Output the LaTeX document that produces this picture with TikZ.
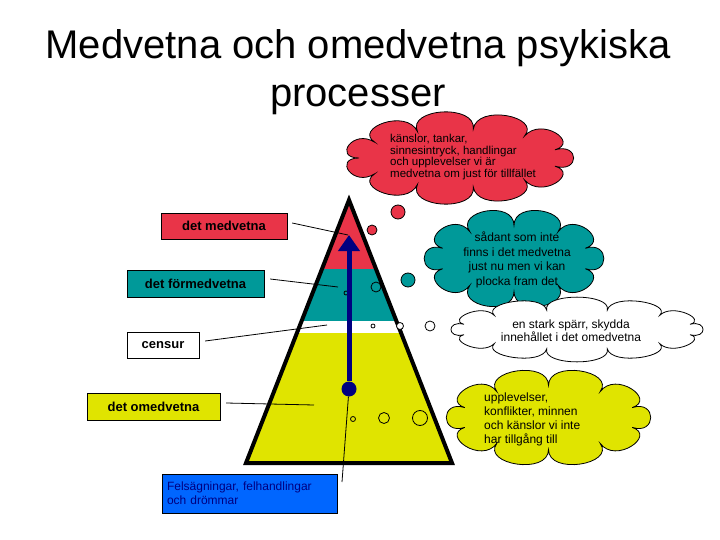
\documentclass[tikz,border=0pt]{standalone}
\usepackage{fontspec}
\setmainfont{Liberation Sans}
\usetikzlibrary{arrows.meta}
\definecolor{medvred}{RGB}{233,52,72}
\definecolor{formteal}{RGB}{0,153,153}
\definecolor{omedyellow}{RGB}{224,228,0}
\definecolor{drombla}{RGB}{0,102,255}
\definecolor{pilnavy}{RGB}{0,0,128}
% moln: fyllning, cx, cy, a, b, antal puffar, puffhojd
\newcommand{\moln}[7]{%
  \draw[fill=#1, line width=0.8pt] ({#2+#4*cos(180/#6)},{#3+#5*sin(180/#6)})
    \foreach \i in {1,...,#6} {
      .. controls ({#2+(#4+#7)*cos((2*\i-1)*180/#6)},{#3+(#5+#7)*sin((2*\i-1)*180/#6)})
              and ({#2+(#4+#7)*cos((2*\i+1)*180/#6)},{#3+(#5+#7)*sin((2*\i+1)*180/#6)})
      .. ({#2+#4*cos((2*\i+1)*180/#6)},{#3+#5*sin((2*\i+1)*180/#6)})
    } -- cycle;}

\begin{document}
\begin{tikzpicture} [x=1pt, y=-1pt,
                label_box/.style={draw=black, rectangle, inner sep=0pt, font=\bfseries\fontsize{13}{15}\selectfont},
                cloud_text/.style={inner sep=0pt, font=\fontsize{12}{14}\selectfont},
                bubble/.style={circle, draw=black, inner sep=0pt, line width=0.8pt}]
                \tikzset{leader/.style={draw=black, line width=0.8pt}}
                \useasboundingbox (0,0) rectangle (720,540);
                % titel
                \node (title1) at (358,59) [anchor=base, font=\fontsize{40}{48}\selectfont] {Medvetna och omedvetna psykiska};
                \node (title2) at (358,107) [anchor=base, font=\fontsize{40}{48}\selectfont] {processer};
                % pyramiden
                \begin{scope}
                  \clip (349,200) -- (452,463) -- (246,463) -- cycle;
                  \fill[medvred] (240,190) rectangle (460,269);
                  \fill[formteal] (240,269) rectangle (460,321);
                  \fill[white] (240,321) rectangle (460,333);
                  \fill[omedyellow] (240,333) rectangle (460,470);
                \end{scope}
                \draw[line width=4pt, line join=miter] (349,200) -- (452,463) -- (246,463) -- cycle;
                % bubblor
                \node (rod_b1) at (398,212) [bubble, fill=medvred, minimum size=14pt] {};
                \node (rod_b2) at (372,230) [bubble, fill=medvred, minimum size=10pt] {};
                \node (teal_b1) at (408,280) [bubble, fill=formteal, minimum size=14pt] {};
                \node (teal_b2) at (376,287) [bubble, minimum size=10pt] {};
                \node (teal_b3) at (346,293) [bubble, minimum size=4pt] {};
                \node (cen_b1) at (373,326) [bubble, fill=white, minimum size=4pt] {};
                \node (cen_b2) at (400,326) [bubble, fill=white, minimum size=7pt] {};
                \node (cen_b3) at (430,326) [bubble, fill=white, minimum size=10pt] {};
                \node (omed_b1) at (353,419) [bubble, minimum size=5pt] {};
                \node (omed_b2) at (384,418) [bubble, minimum size=11pt] {};
                \node (omed_b3) at (420,418) [bubble, minimum size=15pt] {};
                % etiketter
                \node (medv) at (224,226) [label_box, fill=medvred, minimum width=126pt, minimum height=26pt] {det medvetna};
                \node (formedv) at (195.5,283.5) [label_box, fill=formteal, minimum width=137pt, minimum height=27pt] {det förmedvetna};
                \node (censur) at (163,345) [label_box, fill=white, minimum width=72pt, minimum height=26pt] {censur};
                \node (omedv) at (153.5,406.5) [label_box, fill=omedyellow, minimum width=133pt, minimum height=27pt] {det omedvetna};
                \node (drom) at (249.5,493.5) [draw=black, fill=drombla, minimum width=175pt, minimum height=39pt, text width=165pt, align=left, inner sep=0pt, text=pilnavy, font=\fontsize{12}{14}\selectfont] {Felsägningar, felhandlingar\\och drömmar};
                \coordinate (medv_end) at (348,235);
                \coordinate (formedv_end) at (338,287);
                \coordinate (censur_end) at (327,325);
                \coordinate (omedv_end) at (314,405);
                \coordinate (drom_end) at (342,482);
                \draw [leader] ([shift={(5,-3)}]medv.east) -- (medv_end);
                \draw [leader] ([shift={(6,-4.5)}]formedv.east) -- (formedv_end);
                \draw [leader] ([shift={(6,-4)}]censur.east) -- (censur_end);
                \draw [leader] ([shift={(6,-3.5)}]omedv.east) -- (omedv_end);
                % pilen
                \node (dot) at (349,389) [circle, fill=pilnavy, minimum size=15pt, inner sep=0pt] {};
                \coordinate (pil_tip) at (349,235);
                \draw [leader] (dot) -- (drom_end);
                \draw [pilnavy, line width=5pt, -{Triangle[length=16pt,width=21pt]}] (dot) -- (pil_tip);
                % moln
                \moln{medvred}{459}{158}{100}{29}{11}{26}
                \node (rod_text) at (390,157) [cloud_text, anchor=west, align=left, font=\fontsize{11.5}{11.5}\selectfont] {känslor, tankar,\\sinnesintryck, handlingar\\och upplevelser vi är\\medvetna om just för tillfället};
                \moln{formteal}{514}{258.5}{75}{33}{10}{26}
                \node (teal_text) at (517,260) [cloud_text, align=center, font=\fontsize{12}{14.5}\selectfont] {sådant som inte\\finns i det medvetna\\just nu men vi kan\\plocka fram det};
                \moln{white}{577}{329.5}{117}{20}{12}{18}
                \node (vit_text) at (571,331) [cloud_text, align=center, font=\fontsize{12}{13}\selectfont] {en stark spärr, skydda\\innehållet i det omedvetna};
                \moln{omedyellow}{548.5}{417.5}{88}{32}{10}{26}
                \node (gul_text) at (484,419) [cloud_text, anchor=west, align=left, font=\fontsize{12}{14}\selectfont] {upplevelser,\\konflikter, minnen\\och känslor vi inte\\har tillgång till};
            \end{tikzpicture}
\end{document}
